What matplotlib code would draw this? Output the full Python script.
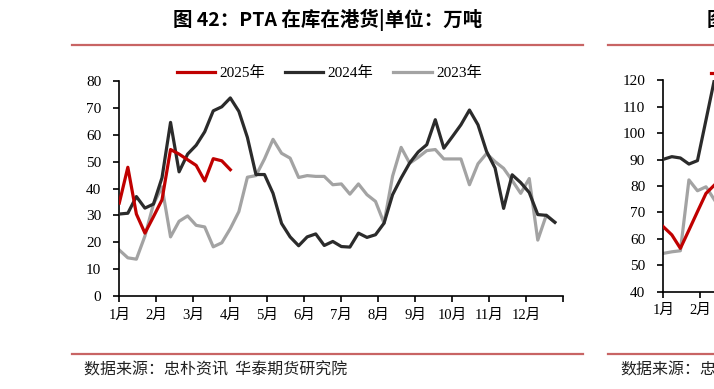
import numpy as np
import matplotlib
matplotlib.use("Agg")
import matplotlib.pyplot as plt
from matplotlib.lines import Line2D

# ---------------------------------------------------------------
# data (weekly)
# ---------------------------------------------------------------
months = ["1月", "2月", "3月", "4月", "5月", "6月", "7月", "8月", "9月", "10月", "11月", "12月"]

pta_2025 = [34.6, 47.9, 30.5, 23.4, 29.5, 35.8, 54.5, 52.8, 50.7, 48.6, 42.8, 51.1, 50.3, 47.0]

pta_2024 = [30.5, 30.8, 37.0, 32.7, 34.2, 44.0, 64.6, 46.2, 52.8, 56.1,
            61.1, 68.9, 70.4, 73.7, 68.7, 59.0, 45.2, 45.2, 38.2, 27.0,
            22.0, 18.7, 22.0, 23.1, 18.8, 20.3, 18.4, 18.2, 23.4, 21.8,
            22.8, 27.1, 37.7, 43.9, 49.5, 53.6, 56.3, 65.6, 55.0, 59.3,
            63.7, 69.2, 63.7, 53.8, 47.6, 32.6, 45.1, 42.2, 38.5, 30.3,
            30.0, 27.4]

pta_2023 = [17.1, 14.2, 13.7, 22.3, 34.2, 40.6, 22.0, 27.8, 29.8, 26.3,
            25.7, 18.3, 19.8, 25.1, 31.4, 44.2, 44.8, 51.0, 58.3, 53.1,
            51.3, 44.1, 44.8, 44.5, 44.5, 41.4, 41.7, 37.9, 41.7, 37.7,
            35.2, 27.1, 44.6, 55.3, 49.4, 51.6, 54.1, 54.5, 51.0, 51.0,
            51.0, 41.4, 49.2, 53.0, 50.0, 47.5, 43.0, 38.2, 43.7, 20.8,
            30.1, 27.5]

# second (cut-off) chart on the right, only the first weeks are visible
right_2025 = [64.6, 61.5, 56.4, 63.3, 70.3, 77.2, 80.4]
right_2024 = [90.1, 91.1, 90.6, 88.3, 89.6, 105.0, 120.5]
right_2023 = [54.5, 55.1, 55.5, 82.3, 78.2, 79.7, 74.7]

C_RED = "#C00000"
C_BLACK = "#2B2B2B"
C_GRAY = "#A3A3A3"
C_RULE = "#C86464"

serif = ["Liberation Serif", "Noto Sans CJK SC"]
sans = ["Noto Sans CJK SC", "DejaVu Sans"]

W, H = 714, 389
fig = plt.figure(figsize=(W / 100, H / 100), dpi=100)


def px_axes(left, top, right, bottom):
    return fig.add_axes([left / W, 1 - bottom / H, (right - left) / W, (bottom - top) / H])


def style_axis(ax, ymin, ymax, n_labels=12):
    ax.set_xlim(0, 52)
    ax.set_ylim(ymin, ymax)
    ax.set_yticks(np.arange(ymin, ymax + 1, 10))
    ax.set_xticks(np.arange(13) * 52 / 12)
    ax.set_xticklabels(months[:n_labels] + [""] * (13 - n_labels))
    for s in ("top", "right"):
        ax.spines[s].set_visible(False)
    for s in ("left", "bottom"):
        ax.spines[s].set_linewidth(1.2)
        ax.spines[s].set_color("black")
    ax.tick_params(axis="y", length=4, width=1.2, pad=9, labelsize=11)
    ax.tick_params(axis="x", length=4, width=1.2, pad=5, labelsize=10.5)
    for lab in ax.get_xticklabels() + ax.get_yticklabels():
        lab.set_family(serif)


# ---------------------------------------------------------------
# main chart
# ---------------------------------------------------------------
ax = px_axes(119.3, 81, 563.4, 296)
lw = 2.3
ax.plot(np.arange(len(pta_2025)), pta_2025, color=C_RED, lw=lw, label="2025年", zorder=4)
ax.plot(np.arange(len(pta_2024)), pta_2024, color=C_BLACK, lw=lw, label="2024年", zorder=3)
ax.plot(np.arange(len(pta_2023)), pta_2023, color=C_GRAY, lw=lw, label="2023年", zorder=2)
style_axis(ax, 0, 80)

ax.legend(loc="center", bbox_to_anchor=(0.473, 1.037), ncol=3, frameon=False,
          handlelength=2.5, handletextpad=0.3, columnspacing=1.3,
          prop={"family": serif, "size": 11}, borderaxespad=0, borderpad=0)

# ---------------------------------------------------------------
# neighbouring chart, cut off at the right edge
# ---------------------------------------------------------------
ax2 = px_axes(663.3, 80.3, 1107.4, 291.7)
ax2.plot(np.arange(len(right_2025)), right_2025, color=C_RED, lw=lw, zorder=4)
ax2.plot(np.arange(len(right_2024)), right_2024, color=C_BLACK, lw=lw, zorder=3)
ax2.plot(np.arange(len(right_2023)), right_2023, color=C_GRAY, lw=lw, zorder=2)
style_axis(ax2, 40, 120, n_labels=2)
ax2.add_line(Line2D([711 / W, 722 / W], [1 - 73 / H, 1 - 73 / H], color=C_RED, lw=lw,
                    transform=fig.transFigure, clip_on=False))

# ---------------------------------------------------------------
# titles, rules, source notes
# ---------------------------------------------------------------
fig.text(328 / W, 1 - 20 / H, "图 42：PTA 在库在港货|单位：万吨", ha="center", va="center",
         fontsize=14, fontweight="bold", family=sans)
fig.text(707 / W, 1 - 20 / H, "图", ha="left", va="center",
         fontsize=14, fontweight="bold", family=sans)

for x0, x1 in ((72, 583), (608, 714)):
    for yy in (45, 354):
        fig.add_artist(Line2D([x0 / W, x1 / W], [1 - yy / H, 1 - yy / H], color=C_RULE, lw=1.6))

fig.text(84 / W, 1 - 370 / H, "数据来源：忠朴资讯  华泰期货研究院", ha="left", va="center",
         fontsize=11.5, family=sans, color="#222222")
fig.text(620 / W, 1 - 370 / H, "数据来源：忠", ha="left", va="center",
         fontsize=11.5, family=sans, color="#222222")

fig.savefig("out.png", dpi=100)
